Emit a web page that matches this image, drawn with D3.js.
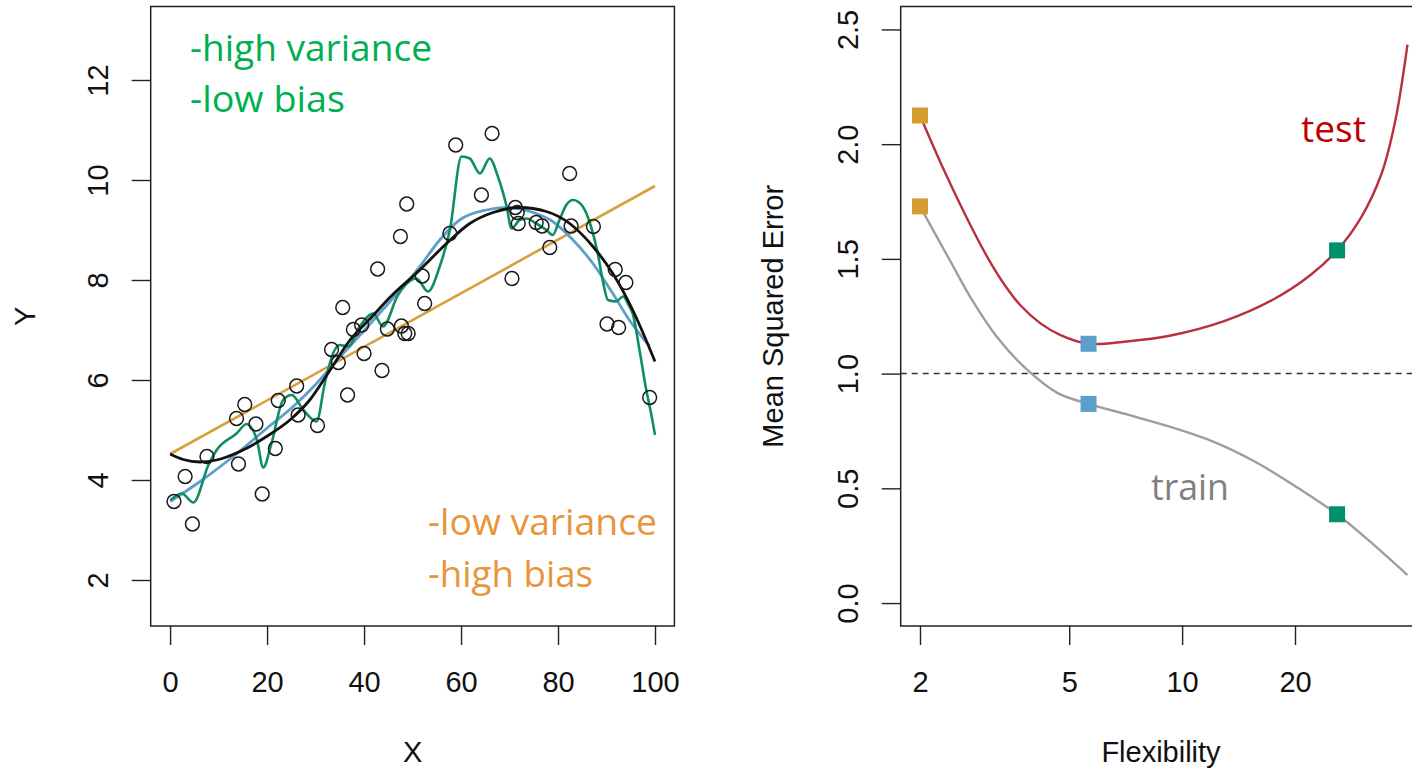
<!DOCTYPE html>
<html>
<head>
<meta charset="utf-8">
<script src="https://cdn.jsdelivr.net/npm/d3@7"></script>
<style>
  html, body { margin: 0; padding: 0; background: #ffffff; }
  svg { display: block; }
</style>
</head>
<body>
<svg id="chart" width="1412" height="769"></svg>
<script>
// ---------- Left panel data ----------
const pointsX = [0.8,3.1,4.6,7.6,13.7,14.1,15.4,17.7,19.0,21.7,22.3,26.1,26.4,30.4,33.3,34.7,35.6,36.6,37.8,39.5,40.0,42.8,43.7,44.8,47.5,47.7,48.4,48.8,49.1,52.0,52.5,57.7,58.9,64.2,66.4,70.5,71.2,71.6,71.8,75.5,76.7,78.3,82.4,82.7,87.3,90.1,91.8,92.5,94.0,98.9];
const pointsY = [3.57,4.07,3.12,4.47,5.23,4.32,5.51,5.12,3.72,4.63,5.59,5.88,5.3,5.09,6.61,6.35,7.45,5.7,7.01,7.1,6.53,8.22,6.19,7.02,8.87,7.08,6.93,9.52,6.93,8.08,7.53,8.93,10.7,9.7,10.93,8.03,9.45,9.35,9.13,9.15,9.08,8.65,10.13,9.08,9.07,7.12,8.21,7.05,7.95,5.65];

const linearX = [0, 100];
const linearY = [4.52, 9.88];

const trueX = [0,2.7,6.2,9.6,14.4,19.9,24.7,28.8,33.0,37.1,41.5,45.3,51.5,57.0,61.8,66.6,72.1,77.6,82.4,87.2,91.3,95.4,100];
const trueY = [4.52,4.41,4.36,4.4,4.57,4.87,5.2,5.6,6.2,6.8,7.25,7.65,8.2,8.73,9.13,9.35,9.45,9.37,9.13,8.67,8.13,7.4,6.37];

const smoothX = [0,6.2,13.0,19.9,25.4,30.2,33.3,42.6,51.5,55.6,59.7,65.2,69.4,74.2,78.9,83.1,87.2,91.3,94.7,98.9];
const smoothY = [3.57,3.97,4.47,5.03,5.47,5.93,6.27,7.27,8.27,8.8,9.2,9.4,9.45,9.37,9.17,8.8,8.33,7.73,7.2,6.67];

const wigglyX = [0.1,2.4,4.8,7.9,9.6,13.7,15.8,17.9,19.2,20.9,23.3,25.1,27.5,30.2,31.9,33.6,35.0,36.7,39.1,41.9,43.9,47.0,50.8,53.2,55.6,57.7,60.1,61.8,63.9,65.9,67.6,69.4,70.4,72.1,73.5,75.5,77.6,78.9,80.3,81.7,83.1,85.1,86.8,88.2,89.2,90.3,92.0,93.4,94.7,95.4,96.8,98.2,99.2,100];
const wigglyY = [3.6,3.73,3.55,4.3,4.6,4.93,5.12,4.8,4.25,4.73,5.6,5.7,5.4,5.17,5.93,6.53,6.7,6.67,7.07,7.33,7.07,7.7,8.03,7.77,8.27,9.0,10.47,10.43,10.13,10.43,10.07,9.47,9.03,9.2,9.23,9.13,9.0,8.9,9.2,9.5,9.6,9.47,9.07,8.53,8.0,7.6,7.57,7.67,7.47,7.33,6.6,5.8,5.33,4.9];

const leftXTicks = [0, 20, 40, 60, 80, 100];
const leftYTicks = [2, 4, 6, 8, 10, 12];

// ---------- Right panel data ----------
const testX = [2, 2.333, 2.722, 3.078, 3.378, 3.704, 4.19, 4.74, 5.63, 7.1, 9.26, 13.0, 17.45, 22.0, 25.9, 30.0, 34.0, 37.0, 39.9];
const testY = [2.125, 1.876, 1.649, 1.486, 1.382, 1.298, 1.219, 1.168, 1.13, 1.14, 1.165, 1.23, 1.322, 1.43, 1.537, 1.68, 1.87, 2.1, 2.434];
const trainX = [2, 2.4, 2.75, 3.2, 3.86, 4.66, 5.63, 7.2, 9.26, 12.06, 15.7, 20.45, 25.9, 32.0, 39.9];
const trainY = [1.729, 1.495, 1.322, 1.162, 1.017, 0.915, 0.868, 0.82, 0.769, 0.705, 0.615, 0.5, 0.387, 0.262, 0.122];
const squareX = [2, 5.63, 25.9];
const squareTest = [2.125, 1.13, 1.537];
const squareTrain = [1.729, 0.868, 0.387];
const squareColors = ["#D69E30", "#5E9ECB", "#00916A"];
const irreducible = [1.0];
const rightXTicks = [2, 5, 10, 20];
const rightYTicks = [0.0, 0.5, 1.0, 1.5, 2.0, 2.5];

// ---------- Layout ----------
const svg = d3.select("#chart");
svg.append("rect").attr("width", 1412).attr("height", 769).attr("fill", "#fff");
const axisFont = "'Liberation Sans', Arial, Helvetica, sans-serif";
const noteFont = "'Open Sans', 'Noto Sans', sans-serif";
const fs = 29;
const plotTop = 6.5, plotBottom = 626;
const titleBaseline = 762;

// ===== Left panel =====
const lx = d3.scaleLinear().domain([-4, 104]).range([150.7, 674.4]);
const ly = d3.scaleLinear().domain([1.08, 13.47]).range([plotBottom, plotTop]);
const L = svg.append("g");

function styleAxisText(g, fsize) {
  g.selectAll("text").attr("font-family", axisFont).attr("font-size", fsize).attr("fill", "#111");
  g.selectAll("line").attr("stroke", "#222").attr("stroke-width", 1.4);
  g.select(".domain").remove();
}

const lxAxis = L.append("g").attr("transform", `translate(0,${plotBottom})`)
  .call(d3.axisBottom(lx).tickValues(leftXTicks).tickSize(19).tickSizeOuter(0).tickFormat(d3.format("d")));
styleAxisText(lxAxis, fs);
lxAxis.selectAll("text").attr("y", 66).attr("dy", null);

const lyAxis = L.append("g").attr("transform", `translate(150.7,0)`)
  .call(d3.axisLeft(ly).tickValues(leftYTicks).tickSize(19).tickSizeOuter(0).tickFormat(d3.format("d")));
styleAxisText(lyAxis, fs);
lyAxis.selectAll("text").attr("x", null).attr("dy", null).attr("text-anchor", "middle")
  .attr("transform", "translate(-42.5,0) rotate(-90)");

const line = (xs, ys, sx, sy, curve) => d3.line().x(d => sx(d[0])).y(d => sy(d[1])).curve(curve)(xs.map((x, i) => [x, ys[i]]));

L.append("path").attr("d", line(linearX, linearY, lx, ly, d3.curveLinear))
  .attr("fill", "none").attr("stroke", "#D6A03A").attr("stroke-width", 2.6);
L.append("path").attr("d", line(smoothX, smoothY, lx, ly, d3.curveMonotoneX))
  .attr("fill", "none").attr("stroke", "#5E9ECB").attr("stroke-width", 2.8);
L.append("path").attr("d", line(wigglyX, wigglyY, lx, ly, d3.curveMonotoneX))
  .attr("fill", "none").attr("stroke", "#0E8F62").attr("stroke-width", 2.6);
L.append("path").attr("d", line(trueX, trueY, lx, ly, d3.curveMonotoneX))
  .attr("fill", "none").attr("stroke", "#111").attr("stroke-width", 2.8);

L.selectAll("circle.pt").data(pointsX.map((x, i) => [x, pointsY[i]])).enter()
  .append("circle").attr("class", "pt")
  .attr("cx", d => lx(d[0])).attr("cy", d => ly(d[1])).attr("r", 6.9)
  .attr("fill", "none").attr("stroke", "#1a1a1a").attr("stroke-width", 1.5);

L.append("rect").attr("x", 150.7).attr("y", plotTop).attr("width", 674.4 - 150.7).attr("height", plotBottom - plotTop)
  .attr("fill", "none").attr("stroke", "#222").attr("stroke-width", 1.5);

L.append("text").attr("x", lx(50)).attr("y", titleBaseline).attr("text-anchor", "middle")
  .attr("font-family", axisFont).attr("font-size", fs).attr("fill", "#111").text("X");
L.append("text").attr("transform", `translate(35,${(plotTop + plotBottom) / 2}) rotate(-90)`).attr("text-anchor", "middle")
  .attr("font-family", axisFont).attr("font-size", fs).attr("fill", "#111").text("Y");

const notes = [
  {t: "-high variance", x: 190, y: 61, w: 242, c: "#00B050"},
  {t: "-low bias", x: 190, y: 112, w: 155, c: "#00B050"},
  {t: "-low variance", x: 428, y: 535, w: 229, c: "#E8953C"},
  {t: "-high bias", x: 428, y: 587, w: 165, c: "#E8953C"}
];
notes.forEach(n => {
  L.append("text").attr("x", n.x).attr("y", n.y).attr("font-family", noteFont).attr("font-size", 36)
    .attr("fill", n.c).attr("textLength", n.w).attr("lengthAdjust", "spacingAndGlyphs").text(n.t);
});

// ===== Right panel =====
const rx = d3.scaleLog().domain([2, 20]).range([920, 1295]);
const ry = d3.scaleLinear().domain([-0.1, 2.6]).range([plotBottom, plotTop]);
const R = svg.append("g");

const rxAxis = R.append("g").attr("transform", `translate(0,${plotBottom})`)
  .call(d3.axisBottom(rx).tickValues(rightXTicks).tickSize(19).tickSizeOuter(0).tickFormat(d3.format("d")));
styleAxisText(rxAxis, fs);
rxAxis.selectAll("text").attr("y", 66).attr("dy", null);

const ryAxis = R.append("g").attr("transform", `translate(900.7,0)`)
  .call(d3.axisLeft(ry).tickValues(rightYTicks).tickSize(19).tickSizeOuter(0).tickFormat(d3.format(".1f")));
styleAxisText(ryAxis, fs);
ryAxis.selectAll("text").attr("x", null).attr("dy", null).attr("text-anchor", "middle")
  .attr("transform", "translate(-42.7,0) rotate(-90)");

R.selectAll("line.ref").data(irreducible).enter().append("line").attr("class", "ref")
  .attr("x1", 900.7).attr("x2", 1425).attr("y1", d => ry(d)).attr("y2", d => ry(d))
  .attr("stroke", "#333").attr("stroke-width", 1.5).attr("stroke-dasharray", "6,5");

const smooth = d3.curveCatmullRom.alpha(0.5);
R.append("path").attr("d", line(trainX, trainY, rx, ry, smooth))
  .attr("fill", "none").attr("stroke", "#9E9E9E").attr("stroke-width", 2.4);
R.append("path").attr("d", line(testX, testY, rx, ry, smooth))
  .attr("fill", "none").attr("stroke", "#B8303C").attr("stroke-width", 2.4);

const sq = 16;
[squareTest, squareTrain].forEach(arr => {
  R.selectAll(null).data(squareX.map((x, i) => [x, arr[i], squareColors[i]])).enter()
    .append("rect").attr("x", d => rx(d[0]) - sq / 2).attr("y", d => ry(d[1]) - sq / 2)
    .attr("width", sq).attr("height", sq).attr("fill", d => d[2]);
});

R.append("path").attr("d", `M1421.6,${plotTop}H900.7V${plotBottom}H1421.6`)
  .attr("fill", "none").attr("stroke", "#222").attr("stroke-width", 1.5);

R.append("text").attr("x", 1161).attr("y", titleBaseline).attr("text-anchor", "middle")
  .attr("font-family", axisFont).attr("font-size", fs).attr("fill", "#111").text("Flexibility");
R.append("text").attr("transform", `translate(783,${(plotTop + plotBottom) / 2}) rotate(-90)`).attr("text-anchor", "middle")
  .attr("font-family", axisFont).attr("font-size", fs).attr("fill", "#111").text("Mean Squared Error");

R.append("text").attr("x", 1301).attr("y", 142).attr("font-family", noteFont).attr("font-size", 36)
  .attr("fill", "#C00000").attr("textLength", 65).attr("lengthAdjust", "spacingAndGlyphs").text("test");
R.append("text").attr("x", 1151).attr("y", 500).attr("font-family", noteFont).attr("font-size", 36)
  .attr("fill", "#808080").attr("textLength", 78).attr("lengthAdjust", "spacingAndGlyphs").text("train");
</script>
</body>
</html>
